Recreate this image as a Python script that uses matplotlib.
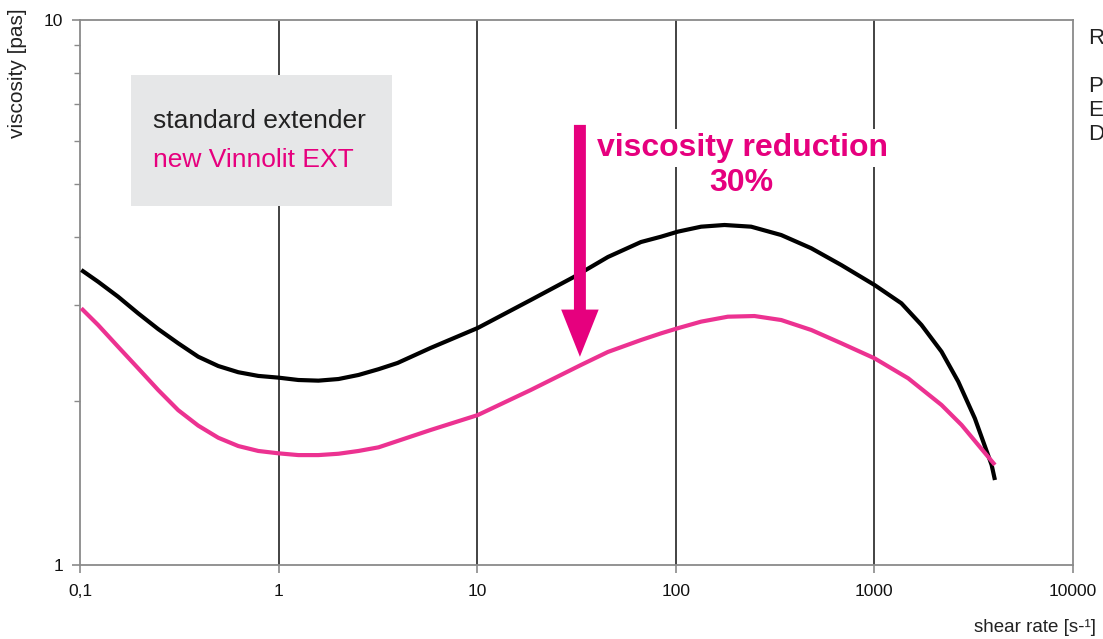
import numpy as np
import matplotlib
matplotlib.use("Agg")
import matplotlib.pyplot as plt
from matplotlib.patches import Rectangle
from matplotlib.ticker import FixedLocator, LogLocator, NullFormatter

plt.rcParams['font.family'] = ['Liberation Sans', 'DejaVu Sans']

# shear rate [1/s] and viscosity [Pa s]
shear_std = [0.1015, 0.1233, 0.1555, 0.1962, 0.2474, 0.312, 0.3937, 0.4968, 0.6266,
             0.7903, 0.997, 1.258, 1.587, 2.002, 2.526, 3.186, 3.972, 5.828, 10.06,
             18.62, 30.68, 45.52, 66.77, 84.24, 102.3, 134.1, 175.8, 239.6, 339.6,
             481.1, 681.5, 1003, 1368, 1726, 2178, 2644, 3205, 3893, 4045]
visc_std = [3.478, 3.310, 3.107, 2.896, 2.710, 2.552, 2.411, 2.318, 2.258,
            2.223, 2.207, 2.185, 2.179, 2.194, 2.232, 2.287, 2.348, 2.502, 2.722,
            3.064, 3.377, 3.674, 3.914, 4.003, 4.089, 4.176, 4.206, 4.176, 4.031,
            3.812, 3.551, 3.263, 3.021, 2.757, 2.463, 2.170, 1.858, 1.526, 1.432]

shear_new = [0.1015, 0.1233, 0.1555, 0.1962, 0.2474, 0.312, 0.3937, 0.4968, 0.6266,
             0.7903, 0.997, 1.258, 1.587, 2.002, 2.526, 3.186, 5.828, 10.06, 18.62,
             33.28, 45.52, 66.77, 84.24, 102.3, 134.1, 182.8, 249.0, 339.6, 481.1,
             681.5, 1003, 1479, 2178, 2747, 3335, 4045]
visc_new = [2.958, 2.757, 2.515, 2.296, 2.095, 1.924, 1.802, 1.712, 1.653,
            1.619, 1.603, 1.591, 1.591, 1.600, 1.619, 1.644, 1.769, 1.884, 2.095,
            2.328, 2.460, 2.587, 2.661, 2.719, 2.796, 2.855, 2.863, 2.815, 2.699,
            2.552, 2.394, 2.201, 1.966, 1.807, 1.660, 1.526]

x_ticks = [0.1, 1, 10, 100, 1000, 10000]
x_labels = ['0,1', '1', '10', '100', '1000', '10000']
grid_x = [1, 10, 100, 1000]

pink = '#e6007e'
pink_line = '#ec3291'
gray = '#8a8a8a'

fig = plt.figure(figsize=(11.03, 6.39), dpi=100)
ax = fig.add_axes([80 / 1103, 1 - 565 / 639, 993 / 1103, 545 / 639])

ax.set_xscale('log')
ax.set_yscale('log')
ax.set_xlim(0.1, 10000)
ax.set_ylim(1, 10)

for gx in grid_x:
    ax.axvline(gx, color='#222222', lw=1.2, zorder=1)

ax.plot(shear_std, visc_std, color='black', lw=3.0, solid_capstyle='butt',
        solid_joinstyle='round', zorder=3)
ax.plot(shear_new, visc_new, color=pink_line, lw=3.0, solid_capstyle='butt',
        solid_joinstyle='round', zorder=3)

for s in ax.spines.values():
    s.set_color(gray)
    s.set_linewidth(1.3)

ax.xaxis.set_major_locator(FixedLocator(x_ticks))
ax.set_xticklabels(x_labels)
ax.xaxis.set_minor_locator(FixedLocator([]))
ax.yaxis.set_major_locator(FixedLocator([1, 10]))
ax.set_yticklabels(['1', '10'])
ax.yaxis.set_minor_locator(LogLocator(base=10, subs=np.arange(2, 10)))
ax.yaxis.set_minor_formatter(NullFormatter())
ax.tick_params(axis='both', which='major', direction='out', length=6, width=1.2,
               color=gray, labelsize=12.5, labelcolor='#111111')
ax.tick_params(axis='x', which='major', pad=8)
ax.tick_params(axis='y', which='major', pad=6)
ax.tick_params(axis='y', which='minor', direction='out', length=4, width=1.0, color=gray)

# legend box
ax.add_patch(Rectangle((0.0514, 0.6587), 0.2628, 0.2404, transform=ax.transAxes,
                       fc='#e6e7e8', ec='none', zorder=4))
ax.text(0.0735, 0.8147, 'standard extender', transform=ax.transAxes, fontsize=19,
        color='#222222', va='center', ha='left', zorder=5)
ax.text(0.0735, 0.7431, 'new Vinnolit EXT', transform=ax.transAxes, fontsize=19,
        color=pink, va='center', ha='left', zorder=5)

# reduction arrow
ax.annotate('', xy=(32.9, 2.41), xytext=(32.9, 6.42),
            arrowprops=dict(arrowstyle='simple,head_length=34,head_width=27,tail_width=8.6',
                            mutation_scale=1, fc=pink, ec='none', shrinkA=0, shrinkB=0),
            zorder=5)
ax.text(0.6667, 0.7651, 'viscosity reduction', transform=ax.transAxes, fontsize=23,
        fontweight='bold', color=pink, ha='center', va='center', zorder=5,
        bbox=dict(boxstyle='square,pad=0.12', fc='white', ec='none'))
ax.text(0.6657, 0.7009, '30%', transform=ax.transAxes, fontsize=23,
        fontweight='bold', color=pink, ha='center', va='center', zorder=5)

fig.text(18 / 1103, 1 - 73 / 639, 'viscosity [pas]', rotation=90, fontsize=15,
         color='#222222', ha='center', va='center')
fig.text(1035 / 1103, 1 - 628 / 639, 'shear rate [s-¹]', fontsize=13.5,
         color='#222222', ha='center', va='center')

for letter, py in zip(['R', 'P', 'E', 'D'], [38, 86, 110, 135]):
    fig.text(1088 / 1103, 1 - py / 639, letter, fontsize=16, color='#222222',
             ha='left', va='center')

fig.savefig('out.png', dpi=100, facecolor='white')
